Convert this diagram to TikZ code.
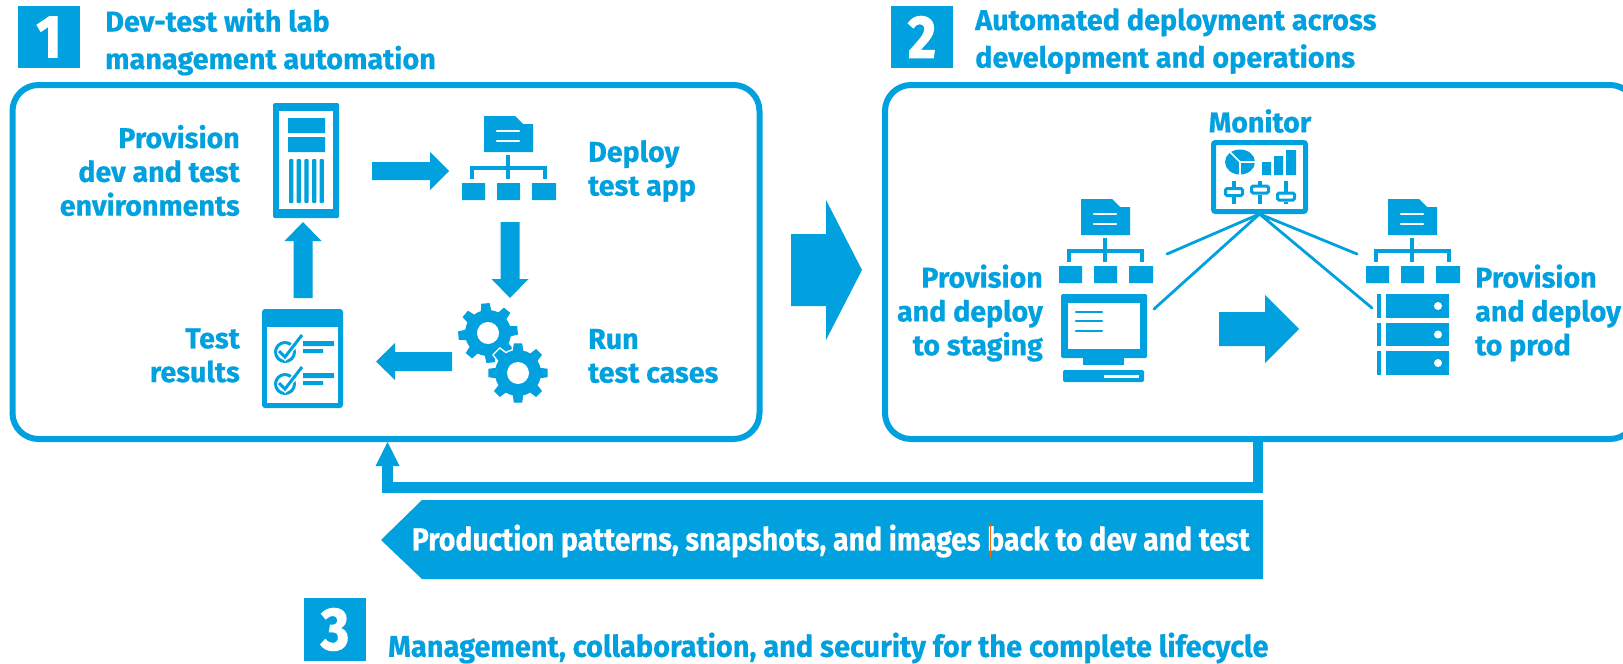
\documentclass[tikz,border=0pt]{standalone}
\usepackage{fontspec}
\usetikzlibrary{calc}
\setmainfont{Fira Sans}
\newfontfamily\hpfont[FakeBold=0.5,UprightFont=* Bold]{Fira Sans}
\newfontfamily\hpcondA[FakeStretch=0.888,FakeBold=0.5,UprightFont=* Bold]{Fira Sans}
\newfontfamily\hpcondB[FakeStretch=0.965,FakeBold=0.5,UprightFont=* Bold]{Fira Sans}
\newfontfamily\hpnum[FakeStretch=0.9,FakeBold=2,UprightFont=* Bold]{Fira Sans}
\definecolor{hpblue}{RGB}{0,161,222}
\tikzset{
  label text/.style={text=hpblue,font=\hpfont\fontsize{28.6}{33.8}\selectfont,inner sep=0pt},
  head text/.style={label text,align=left,anchor=north west,font=\hpfont\fontsize{28.8}{37.5}\selectfont},
  panel/.style={draw=hpblue,line width=6pt,rounded corners=26pt,fill=white,inner sep=0pt,outer sep=0pt},
  numbox/.style={fill=hpblue,text=white,font=\hpnum\fontsize{60}{62}\selectfont,inner sep=0pt,minimum width=62pt,minimum height=62pt},
  hub line/.style={draw=hpblue,line width=2.8pt,line cap=round},
  white rule/.style={draw=white,line width=2.6pt,line cap=round},
  blue rule/.style={draw=hpblue,line width=3.2pt},
}
% #1 name, #2 sx, #3 sy, #4 angle, #5 length, #6 shaft, #7 head length, #8 head width
\newcommand{\blockarrow}[8]{%
  \begin{scope}[shift={(#2,#3)},rotate=#4]
    \coordinate (#1s) at (0,0);\coordinate (#1e) at (#5,0);
    \fill[hpblue] (0,-#6/2) -- (#5-#7,-#6/2) -- (#5-#7,-#8/2) -- (#1e) -- (#5-#7,#8/2) -- (#5-#7,#6/2) -- (0,#6/2) -- cycle;
  \end{scope}}
\newcommand{\orgicon}[2]{%
  \begin{scope}[shift={(#1,#2)}]
    \fill[hpblue] (484,116) -- (515,116) -- (523,124) -- (533,124) -- (533,152) -- (484,152) -- cycle;
    \draw[white rule] (497,131) -- (519,131) (497,141) -- (519,141);
    \draw[blue rule] (508,155) -- (508,179) (472,179) -- (472,168) -- (545,168) -- (545,179);
    \fill[hpblue] (462,183) rectangle (485,200) (497,183) rectangle (520,200) (532,183) rectangle (556,200);
  \end{scope}}
\newcommand{\gearicon}[3]{% cx cy rot
  \begin{scope}[shift={(#1,#2)},rotate=#3]
    \path[fill=hpblue,draw=white,line width=3pt]
      (0:23) \foreach \a in {0,45,...,315} {
        -- (\a-13:23) -- (\a-8:30) -- (\a+8:30) -- (\a+13:23) arc[start angle=\a+13,end angle=\a+32,radius=23]
      } -- cycle;
    \path[fill=hpblue]
      (0:23) \foreach \a in {0,45,...,315} {
        -- (\a-13:23) -- (\a-8:30) -- (\a+8:30) -- (\a+13:23) arc[start angle=\a+13,end angle=\a+32,radius=23]
      } -- cycle;
    \fill[white] (0,0) circle[radius=11];
  \end{scope}}
\newcommand{\checkicon}[1]{%
  \begin{scope}[shift={(0,#1)}]
    \draw[hpblue,line width=3pt] (285,352) circle[radius=9.5];
    \draw[white,line width=6pt] (279,351) -- (285,357) -- (302,335);
    \draw[hpblue,line width=3pt] (279,351) -- (285,357) -- (302,335);
    \fill[hpblue] (303,341) rectangle (334,346) (303,349) rectangle (323,353);
  \end{scope}}
\begin{document}
\begin{tikzpicture}[x=1pt,y=-1pt]
\useasboundingbox (0,0) rectangle (1623,664);
\fill[white] (0,0) rectangle (1623,664);
\clip (0,0) rectangle (1623,664);

% panels
\node[panel,minimum width=747pt,minimum height=354pt,anchor=north west] (box1) at (12.5,85) {};
\node[panel,minimum width=751pt,minimum height=354pt,anchor=north west] (box2) at (885,85) {};

% number squares and headings
\node[numbox] (n1) at (49,37) {1};
\node[numbox] (n2) at (922,37) {2};
\node[numbox,minimum height=63pt] (n3) at (335,629.5) {3};
\node[head text] (h1) at (105,8) {Dev-test with lab\\management automation};
\node[head text] (h2) at (975,8) {Automated deployment across\\development and operations};
\node[label text,anchor=west,font=\hpcondB\fontsize{30}{34}\selectfont] (h3) at (388,648) {Management, collaboration, and security for the complete lifecycle};

% labels in panel 1
\node[label text,align=right,anchor=east] (l1) at (240,170.5) {Provision\\dev and test\\environments};
\node[label text,align=left,anchor=west] (l2) at (588,171) {Deploy\\test app};
\node[label text,align=left,anchor=west] (l3) at (588,356) {Run\\test cases};
\node[label text,align=right,anchor=east] (l4) at (240,355.5) {Test\\results};
% labels in panel 2
\node[label text] (l5) at (1260,121) {Monitor};
\node[label text,align=right,anchor=east] (l6) at (1043,313) {Provision\\and deploy\\to staging};
\node[label text,align=left,anchor=west] (l7) at (1475,313) {Provision\\and deploy\\to prod};

% environment icon
\fill[hpblue,rounded corners=1.5pt] (273,103) rectangle (339,218);
\fill[white] (279,111) rectangle (333,209);
\fill[hpblue] (288,118) rectangle (325,133) (288,137) rectangle (325,152);
\foreach \x in {289,296.7,304.4,312,319.6} \fill[hpblue,rounded corners=1pt] (\x,159) rectangle (\x+4.3,203);

% deploy icon
\orgicon{0}{0}

% gears
\gearicon{488}{333}{5}
\gearicon{518}{373}{0}

% results icon
\fill[hpblue,rounded corners=3pt] (262,309) rectangle (343,408);
\fill[white] (267,327) rectangle (338,403);
\checkicon{0}
\checkicon{32}

% loop arrows
\blockarrow{aa}{372}{171}{0}{77}{18}{19}{38}
\blockarrow{ab}{510}{222}{-90}{76}{19}{19}{37}
\blockarrow{ac}{452}{361.5}{180}{76}{19}{19}{37}
\blockarrow{ad}{303}{298}{90}{76}{19}{19}{37}

% big arrow between panels
\blockarrow{ae}{791}{270}{0}{71}{72}{36}{140}

% monitor icon
\node[draw=hpblue,line width=5pt,rounded corners=2pt,minimum width=92pt,minimum height=69pt,inner sep=0pt,outer sep=0pt] (monitor) at (1259.5,177) {};
\fill[hpblue] (1240,162) ellipse[x radius=15,y radius=12.5];
\draw[draw=white,line width=1.6pt] (1229,151) -- (1240,162) -- (1255,162) (1240,162) -- (1240,176);
\fill[hpblue] (1262,162) rectangle (1271,175) (1274,156) rectangle (1283,175) (1286,150) rectangle (1296,175);
\foreach \x/\yy in {1234/192,1260/189.5,1286/196.5}{
  \draw[hpblue,line width=3.4pt] (\x,181) -- (\x,\yy-5) (\x,\yy+5) -- (\x,204);
  \draw[hpblue,line width=3pt,rounded corners=1.5pt] (\x-8.5,\yy-3.5) rectangle (\x+8.5,\yy+3.5);
}

% staging and prod org charts
\orgicon{597}{83}
\orgicon{904}{83}

% desktop
\fill[hpblue,rounded corners=1.5pt] (1061,294) rectangle (1147,358);
\fill[white] (1068,303) rectangle (1140,349);
\draw[hpblue,line width=2.6pt,line cap=round] (1076,312) -- (1102,312) (1076,321) -- (1102,321) (1076,331) -- (1102,331);
\fill[hpblue] (1083,358) rectangle (1124,365);
\fill[hpblue,rounded corners=2pt] (1063,370) rectangle (1144,382);
\fill[white] (1104,375) rectangle (1139,377.5);

% rack
\foreach \ya/\yb in {294/318,323/346,351/375}{
  \fill[hpblue] (1377,\ya) rectangle (1381,\yb);
  \fill[hpblue] (1386,\ya) rectangle (1449,\yb);
  \fill[white] (1438,{(\ya+\yb)/2}) circle[radius=4];
}

% deploy arrow
\blockarrow{af}{1219}{329}{0}{80}{34}{34}{68}

% monitor hub lines
\coordinate (hub) at ($(monitor.south)+(0,2.5)$);
\coordinate (m1) at (1167,254);
\coordinate (m2) at (1154,309);
\coordinate (m3) at (1357,254);
\coordinate (m4) at (1372,308);
\draw[hub line] (hub) -- (m1) (hub) -- (m2) (hub) -- (m3) (hub) -- (m4);

% feedback arrow
\coordinate (fbs) at (1258,441);
\coordinate (fbm) at (1258,487.5);
\coordinate (fbe) at (387.5,464);
\draw[draw=hpblue,line width=10.5pt] (fbs) -- (fbm) -- (fbe |- fbm) -- (fbe);
\coordinate (fbt) at (387.5,442);
\fill[hpblue] (fbt) -- (399.5,466) -- (375.5,466) -- cycle;

% banner
\fill[hpblue] (422,500) -- (1263,500) -- (1263,579) -- (422,579) -- (381,540) -- cycle;
\node[text=white,font=\hpcondA\fontsize{32}{34}\selectfont,inner sep=0pt,anchor=east] (banner) at (1250,541) {Production patterns, snapshots, and images back to dev and test};
\coordinate (c1) at (990,523);
\coordinate (c2) at (990,558);
\draw[draw=orange!80!red,line width=.7pt] (c1) -- (c2);
\end{tikzpicture}
\end{document}
